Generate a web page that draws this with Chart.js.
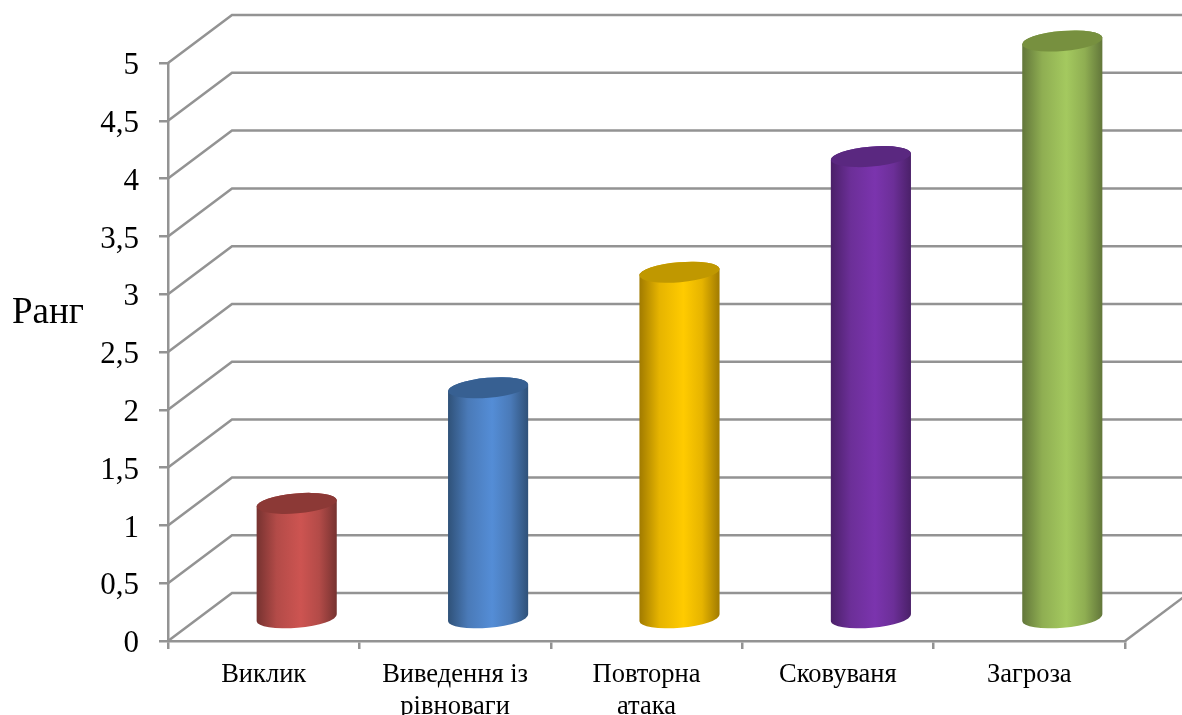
<!DOCTYPE html>
<html>
<head>
<meta charset="utf-8">
<title>Ранг</title>
<script src="https://cdn.jsdelivr.net/npm/chart.js@4"></script>
<style>
    html, body { margin: 0; padding: 0; background: #fff; overflow: hidden; }
    canvas { display: block; }
</style>
</head>
<body>
<canvas id="rank-chart" width="1182" height="715"></canvas>
<script>
var categories = ["Виклик", ["Виведення із", "рівноваги"], ["Повторна", "атака"], "Сковуваня", "Загроза"];
var ranks = [1, 2, 3, 4, 5];
var axisTitle = "Ранг";

// edge, body middle, highlight, cap
var barShades = [
    ["#763230", "#b34b48", "#cd5451", "#8c3936"],
    ["#2f5178", "#4a7ab8", "#548dd6", "#376092"],
    ["#a07a00", "#e6b400", "#ffcb00", "#c09800"],
    ["#4a2068", "#6c2f98", "#7b34ae", "#5a2880"],
    ["#62763a", "#8fae52", "#a4c95f", "#77903f"]
];

var lineColor = "#939393";
var depthX = 64;
var depthY = 48;

// floor, side wall and back wall lines, following the y axis ticks
var wallsPlugin = {
    id: "walls",
    beforeDatasetsDraw: function (chart) {
        var ctx = chart.ctx;
        var area = chart.chartArea;
        var yScale = chart.scales.y;

        ctx.save();
        ctx.strokeStyle = lineColor;
        ctx.lineWidth = 2.5;
        yScale.ticks.forEach(function (tick) {
            var y = yScale.getPixelForValue(tick.value);
            ctx.beginPath();
            ctx.moveTo(area.left, y);
            ctx.lineTo(area.left + depthX, y - depthY);
            ctx.lineTo(area.right + depthX, y - depthY);
            ctx.stroke();
        });
        ctx.beginPath();
        ctx.moveTo(area.right, area.bottom);
        ctx.lineTo(area.right + depthX, area.bottom - depthY);
        ctx.stroke();
        ctx.restore();
    }
};

// each bar is painted as a cylinder standing partway into the depth of the floor
var cylinderPlugin = {
    id: "cylinders",
    afterDatasetsDraw: function (chart) {
        var ctx = chart.ctx;
        var bars = chart.getDatasetMeta(0).data;
        var tilt = -0.085;

        bars.forEach(function (bar, i) {
            var shades = barShades[i];
            var cx = bar.x + 33;
            var rx = bar.width / 2 + 0.2;
            var ry = 10;
            var topY = bar.y - 22;
            var baseY = bar.base - 22;

            var shine = ctx.createLinearGradient(cx - rx, 0, cx + rx, 0);
            shine.addColorStop(0, shades[0]);
            shine.addColorStop(0.25, shades[1]);
            shine.addColorStop(0.55, shades[2]);
            shine.addColorStop(0.78, shades[1]);
            shine.addColorStop(1, shades[0]);

            ctx.save();
            ctx.fillStyle = shine;
            ctx.beginPath();
            ctx.ellipse(cx, baseY, rx, ry, tilt, 0, Math.PI);
            ctx.ellipse(cx, topY, rx, ry, tilt, Math.PI, Math.PI * 2);
            ctx.closePath();
            ctx.fill();

            ctx.fillStyle = shades[3];
            ctx.beginPath();
            ctx.ellipse(cx, topY, rx, ry, tilt, 0, Math.PI * 2);
            ctx.fill();
            ctx.restore();
        });
    }
};

var axisTitlePlugin = {
    id: "axisTitle",
    afterDraw: function (chart) {
        var ctx = chart.ctx;
        ctx.save();
        ctx.fillStyle = "#000";
        ctx.font = "37px 'Liberation Serif'";
        ctx.textAlign = "left";
        ctx.textBaseline = "alphabetic";
        ctx.fillText(axisTitle, 12, 323);
        ctx.restore();
    }
};

var myChart = new Chart(document.getElementById("rank-chart").getContext("2d"), {
    type: "bar",
    data: {
        labels: categories,
        datasets: [{
            label: axisTitle,
            data: ranks,
            backgroundColor: "rgba(0, 0, 0, 0)",
            barPercentage: 0.418,
            categoryPercentage: 1
        }]
    },
    plugins: [wallsPlugin, cylinderPlugin, axisTitlePlugin],
    options: {
        responsive: false,
        animation: false,
        layout: {
            padding: { top: 63, right: 57, left: 0, bottom: 0 }
        },
        plugins: {
            legend: { display: false },
            tooltip: { enabled: false }
        },
        scales: {
            y: {
                min: 0,
                max: 5,
                afterFit: function (scale) { scale.width = 168; },
                ticks: {
                    stepSize: 0.5,
                    color: "#000",
                    padding: 20,
                    labelOffset: 3,
                    font: { family: "'Liberation Serif'", size: 31 },
                    callback: function (value) {
                        return String(value).replace(".", ",");
                    }
                },
                grid: {
                    drawOnChartArea: false,
                    color: lineColor,
                    lineWidth: 2.5,
                    tickLength: 9
                },
                border: { color: lineColor, width: 2.5 }
            },
            x: {
                afterFit: function (scale) { scale.height = 74; },
                ticks: {
                    color: "#000",
                    padding: 10,
                    maxRotation: 0,
                    autoSkip: false,
                    font: { family: "'Liberation Serif'", size: 26.5, lineHeight: 1.21 }
                },
                grid: {
                    drawOnChartArea: false,
                    color: lineColor,
                    lineWidth: 2.5,
                    tickLength: 8
                },
                border: { color: lineColor, width: 2.5 }
            }
        }
    }
});
</script>
</body>
</html>
